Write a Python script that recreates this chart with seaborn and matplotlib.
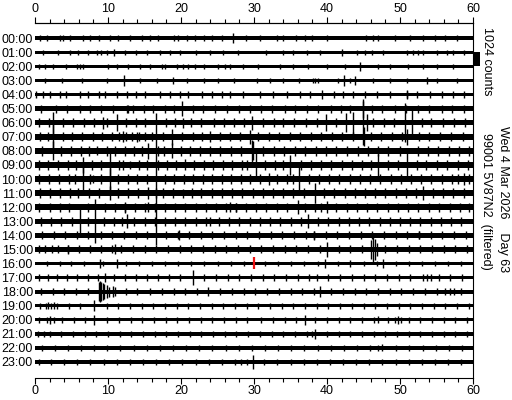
import numpy as np
import pandas as pd
import seaborn as sns
import matplotlib
matplotlib.use("Agg")
import matplotlib.pyplot as plt
from matplotlib.patches import Rectangle
from matplotlib.ticker import MultipleLocator

# helicorder rows, one per hour, 60 minutes each
hour_labels = ["00:00", "01:00", "02:00", "03:00", "04:00", "05:00", "06:00", "07:00",
               "08:00", "09:00", "10:00", "11:00", "12:00", "13:00", "14:00", "15:00",
               "16:00", "17:00", "18:00", "19:00", "20:00", "21:00", "22:00", "23:00"]

# background noise half-amplitude per hour (counts)
noise_counts = [135, 125, 125, 125, 135, 180, 195, 210, 205, 205, 220, 205,
                195, 195, 170, 170, 125, 135, 140, 125, 125, 135, 125, 125]

# small wiggles standing out of the noise (counts per hour, minutes per hour)
tick_counts = [210, 200, 200, 200, 230, 300, 330, 340, 340, 340, 350, 340,
               330, 320, 290, 290, 210, 230, 230, 210, 220, 230, 210, 210]
tick_minutes = [
    [0.7, 1.6, 3.4, 3.9, 4.8, 6.6, 7.5, 8.7, 10.3, 11.4, 13.0, 14.6, 15.8, 16.9, 19.0, 19.6, 20.8,
     21.9, 23.1, 24.3, 25.6, 28.9, 30.8, 33.1, 34.0, 35.8, 37.0, 37.9, 40.0, 45.4, 46.3, 47.0,
     49.3, 51.4, 53.2, 54.8, 56.2, 57.8],
    [1.1, 3.2, 4.8, 5.9, 7.3, 8.5, 9.1, 9.8, 12.3, 13.9, 15.3, 17.1, 18.5, 19.9, 22.1, 24.0, 25.8,
     27.8, 31.7, 34.0, 35.4, 37.2, 39.0, 44.1, 45.2, 46.1, 47.7, 50.9, 51.8, 52.5, 53.2, 55.0,
     56.4, 57.3, 58.7],
    [0.5, 1.4, 2.5, 4.3, 5.7, 6.2, 6.6, 10.0, 11.2, 12.8, 14.4, 15.8, 17.4, 17.8, 19.4, 20.3, 21.0,
     21.9, 23.1, 25.1, 26.0, 26.7, 28.5, 30.6, 33.6, 35.4, 37.4, 40.0, 42.5, 47.0, 48.6, 51.1,
     53.2, 55.0, 57.3],
    [1.4, 3.7, 6.4, 9.8, 14.4, 16.7, 20.8, 23.1, 25.1, 27.2, 30.4, 32.2, 34.0, 36.1, 38.1, 38.4,
     38.7, 41.5, 43.2, 46.3, 48.6, 50.9, 55.0, 57.8],
    [0.2, 1.1, 2.1, 3.4, 4.3, 6.2, 7.3, 8.7, 9.6, 11.2, 12.6, 13.9, 15.1, 17.1, 18.5, 19.9, 21.0,
     24.2, 25.6, 26.7, 28.5, 30.8, 32.6, 34.5, 36.3, 37.7, 40.9, 42.2, 43.6, 45.2, 46.8, 48.6,
     50.9, 52.3, 54.1, 55.7, 57.3, 58.7],
    [0.8, 2.9, 4.4, 6.1, 7.5, 9.0, 10.7, 12.6, 13.4, 14.9, 16.2, 17.8, 19.0, 21.6, 23.0, 24.7,
     26.3, 27.9, 29.4, 31.0, 32.5, 34.2, 35.6, 37.3, 38.8, 40.5, 41.9, 43.2, 46.1, 47.6, 49.3,
     50.8, 52.4, 54.0, 55.7, 57.1, 58.8],
    [0.6, 1.9, 3.8, 5.2, 6.7, 8.1, 9.9, 12.4, 13.8, 15.1, 17.9, 19.2, 21.4, 22.8, 24.5, 25.9,
     27.3, 28.6, 31.2, 32.7, 34.0, 35.5, 37.1, 38.6, 41.2, 46.3, 47.8, 49.2, 53.0, 54.3, 55.9,
     57.4, 58.9],
    [0.7, 1.8, 3.9, 5.1, 6.4, 7.9, 9.2, 10.6, 11.5, 12.4, 13.3, 14.2, 15.1, 16.0, 17.5, 20.2,
     21.6, 22.9, 25.3, 26.7, 28.1, 30.6, 32.0, 33.4, 34.9, 36.3, 37.8, 39.2, 40.7, 42.1, 43.5,
     46.0, 47.4, 48.9, 50.3, 52.6, 54.0, 55.5, 57.0, 58.6],
    [1.0, 3.6, 4.9, 6.3, 7.4, 9.8, 11.0, 12.3, 13.6, 14.6, 16.9, 17.7, 20.0, 21.3, 22.6, 24.0,
     25.4, 26.8, 28.2, 31.3, 32.8, 34.1, 35.6, 37.0, 38.5, 39.9, 41.3, 42.8, 44.2, 45.6, 47.0,
     48.4, 50.0, 52.4, 53.8, 55.2, 56.7, 58.1, 59.4],
    [0.5, 1.8, 3.2, 4.5, 5.6, 7.8, 9.0, 11.5, 12.1, 14.2, 15.4, 16.9, 18.1, 19.3, 21.8, 23.1,
     24.4, 25.7, 27.0, 28.4, 29.1, 31.5, 32.9, 34.0, 36.4, 37.8, 39.2, 40.6, 42.0, 43.4, 44.8,
     46.0, 48.3, 49.7, 52.3, 53.6, 55.0, 56.5, 57.9, 59.3],
    [0.6, 1.9, 3.3, 4.7, 5.5, 7.5, 9.1, 11.4, 12.7, 14.0, 15.3, 17.8, 19.1, 20.4, 21.7, 23.0,
     24.3, 25.6, 26.9, 28.2, 29.5, 30.8, 33.2, 34.5, 35.4, 37.5, 38.9, 40.3, 41.7, 43.1, 44.5,
     45.9, 47.3, 48.7, 50.1, 51.5, 52.9, 54.3, 55.7, 57.1, 58.0, 59.5],
    [0.7, 2.0, 3.4, 4.8, 5.9, 7.4, 8.8, 11.4, 12.8, 14.1, 16.6, 17.5, 18.9, 21.5, 22.8, 24.2,
     25.6, 27.0, 28.4, 29.8, 31.2, 32.6, 34.0, 35.4, 36.8, 39.6, 41.0, 42.4, 43.8, 45.2, 46.6,
     48.0, 49.4, 50.8, 52.2, 54.5, 55.9, 57.3, 58.7],
    [0.6, 2.0, 3.4, 4.7, 7.3, 9.6, 10.9, 12.3, 13.7, 15.0, 16.4, 17.8, 19.2, 20.6, 22.0, 23.4,
     24.8, 26.1, 27.5, 28.9, 30.3, 31.7, 33.1, 34.5, 37.0, 38.4, 39.2, 41.3, 42.7, 44.1, 45.5,
     46.9, 48.3, 49.7, 51.1, 52.5, 54.0, 55.4, 56.8, 58.2, 59.5],
    [0.8, 2.2, 3.6, 5.0, 7.2, 9.4, 10.8, 11.9, 13.6, 15.0, 16.4, 17.8, 19.2, 20.6, 22.0, 23.4,
     25.2, 26.6, 28.0, 29.4, 30.8, 32.2, 33.6, 35.0, 36.4, 38.8, 40.2, 41.6, 43.0, 44.4, 45.8,
     47.2, 48.6, 50.0, 51.4, 52.8, 54.2, 55.6, 57.0, 58.4],
    [0.9, 2.6, 4.1, 5.7, 7.3, 9.0, 10.6, 12.2, 13.8, 15.4, 17.9, 19.6, 21.1, 22.7, 24.3, 25.9,
     27.5, 29.1, 30.7, 32.3, 33.9, 35.5, 37.1, 38.2, 39.8, 41.4, 43.0, 44.6, 46.2, 47.8, 49.4,
     51.0, 52.6, 54.2, 55.8, 57.4, 59.0],
    [0.5, 1.4, 2.3, 3.2, 4.5, 6.0, 7.6, 9.1, 10.5, 11.8, 13.4, 15.0, 16.6, 18.2, 19.8, 21.4,
     23.0, 24.6, 26.2, 27.8, 29.4, 31.0, 32.6, 34.2, 35.8, 37.4, 39.0, 41.6, 43.2, 44.8, 48.0,
     49.6, 51.2, 52.8, 54.4, 56.0, 57.6, 59.2],
    [1.6, 3.4, 4.9, 6.7, 9.3, 12.5, 14.2, 16.0, 17.8, 19.6, 21.4, 23.2, 25.0, 26.8, 28.6, 31.5,
     33.3, 35.1, 36.9, 38.7, 41.5, 45.0, 46.8, 49.4, 51.2, 53.0, 54.8, 56.6, 58.4],
    [0.6, 1.8, 3.0, 4.4, 5.8, 7.2, 8.6, 10.8, 12.3, 13.8, 15.3, 16.8, 18.3, 19.8, 23.2, 24.8,
     26.4, 28.0, 29.6, 31.2, 32.8, 34.4, 36.0, 37.6, 40.2, 41.8, 43.4, 45.0, 46.6, 48.2, 49.8,
     51.4, 53.2, 54.2, 55.3, 56.9, 58.5],
    [0.8, 2.4, 4.0, 5.6, 7.2, 12.4, 14.0, 15.8, 17.4, 19.0, 20.6, 22.2, 25.4, 27.0, 28.6, 30.2,
     31.8, 33.4, 35.0, 36.6, 38.2, 40.6, 42.2, 43.8, 45.4, 47.0, 48.6, 50.2, 51.8, 53.4, 55.0,
     56.2, 57.4, 58.4],
    [0.7, 1.5, 2.2, 3.0, 4.6, 6.2, 9.8, 11.4, 13.0, 14.6, 16.2, 17.8, 19.4, 21.0, 22.6, 24.2,
     25.8, 27.4, 29.0, 30.6, 32.2, 33.8, 35.4, 37.0, 38.6, 40.2, 41.8, 43.4, 45.0, 46.6, 48.2,
     49.8, 51.4, 53.0, 54.6, 56.2, 57.8, 59.4],
    [0.5, 1.7, 2.6, 3.7, 5.3, 6.9, 9.9, 11.5, 13.1, 14.7, 16.3, 17.9, 19.5, 21.1, 22.7, 24.3,
     25.9, 27.5, 29.1, 31.0, 32.6, 34.2, 35.8, 38.4, 40.0, 41.6, 43.2, 44.8, 46.4, 48.4, 49.3,
     50.1, 51.2, 52.8, 54.4, 56.0, 57.6, 59.2],
    [0.4, 1.2, 2.0, 3.6, 5.2, 6.8, 8.4, 10.0, 11.6, 13.2, 14.8, 16.4, 18.0, 19.6, 21.2, 22.8,
     24.4, 26.0, 27.6, 29.2, 30.8, 32.4, 34.0, 35.6, 37.2, 37.9, 40.0, 41.6, 43.2, 44.8, 46.4,
     48.0, 49.6, 51.2, 52.8, 54.4, 56.0, 57.6, 59.2],
    [0.9, 2.7, 4.5, 6.3, 8.1, 9.9, 11.7, 13.5, 15.3, 17.1, 18.9, 20.7, 22.5, 24.3, 26.1, 27.9,
     29.7, 31.5, 33.3, 35.1, 36.9, 38.7, 40.5, 42.3, 44.1, 45.9, 47.0, 49.5, 51.3, 53.1, 54.9,
     56.7, 58.5],
    [0.6, 2.2, 4.0, 5.8, 7.6, 9.4, 11.2, 13.0, 14.8, 16.6, 18.4, 20.2, 22.0, 23.8, 25.6, 27.4,
     28.2, 29.0, 31.4, 33.2, 35.0, 36.8, 38.6, 40.4, 42.2, 44.0, 45.8, 47.6, 49.4, 51.2, 53.0,
     54.8, 56.6, 58.4],
]

# larger events (hour row, minute, half-amplitude in counts)
spike_hour = [0, 1, 1, 2, 3, 3, 3, 3, 3, 4, 4, 4, 5, 5, 5,
              6, 6, 6, 6, 6, 6, 6, 6, 6, 6, 6, 6,
              7, 7, 7, 7, 7, 7, 7, 7,
              8, 8, 8, 8, 8, 8,
              9, 9, 9, 9, 9, 9, 9, 9,
              10, 10, 10, 10, 10, 10, 10,
              11, 11, 11, 11, 11,
              12, 12, 12, 12, 12, 12,
              13, 13, 13, 13, 13,
              14, 14, 14,
              15, 15, 15, 15, 15, 15, 15,
              16, 16, 16, 16, 16,
              17, 17, 17, 17,
              18, 18, 18, 18, 18, 18, 18, 18, 18, 18, 18, 18,
              19, 19, 19,
              20, 20, 20, 20, 20,
              21, 22, 23]
spike_minute = [27.1, 10.8, 42.0, 44.5, 12.2, 18.9, 42.3, 43.8, 53.7, 39.3, 51.0, 22.9, 20.1, 12.8, 44.9,
                2.5, 9.3, 11.2, 20.3, 29.7, 44.9, 43.6, 42.6, 39.9, 50.7, 51.6, 45.5,
                2.5, 18.8, 24.0, 29.5, 12.0, 14.0, 45.0, 51.0,
                2.5, 15.5, 18.8, 8.5, 29.7, 29.9,
                6.6, 10.3, 20.5, 13.0, 30.3, 34.9, 47.0, 51.0,
                6.6, 10.3, 16.6, 8.0, 36.2, 32.0, 58.8,
                10.3, 15.5, 20.3, 38.4, 53.2,
                26.7, 15.5, 12.3, 36.0, 40.0, 27.5,
                6.2, 8.2, 12.6, 24.0, 37.4,
                19.7, 38.2, 52.6,
                4.5, 11.0, 40.0, 46.3, 46.0, 46.6, 46.9,
                8.9, 11.3, 39.7, 43.2, 47.7,
                21.6, 9.6, 53.7, 38.6,
                8.7, 8.9, 9.1, 9.3, 9.5, 9.8, 10.2, 10.7, 11.0, 23.7, 39.0, 56.8,
                8.1, 1.8, 2.6,
                8.1, 2.1, 37.0, 47.0, 49.7,
                38.4, 47.5, 29.9]
spike_counts = [360, 260, 260, 330, 420, 260, 420, 330, 260, 310, 300, 280, 560, 300, 700,
                800, 420, 600, 380, 500, 1600, 800, 700, 600, 1400, 1200, 600,
                950, 600, 400, 500, 400, 380, 700, 600,
                700, 600, 550, 320, 800, 700,
                600, 1150, 400, 320, 900, 700, 800, 900,
                950, 800, 4800, 320, 1100, 450, 420,
                500, 420, 330, 700, 500,
                360, 360, 400, 500, 420, 330,
                900, 1600, 500, 330, 500,
                360, 320, 280,
                320, 360, 560, 900, 700, 750, 500,
                320, 320, 320, 260, 300,
                560, 320, 280, 240,
                700, 760, 720, 620, 520, 460, 360, 420, 300, 300, 380, 240,
                380, 260, 260,
                350, 300, 360, 260, 300,
                360, 260, 500]

scale_counts = 1024          # one row spacing / calibration bar
marker_hour, marker_minute, marker_counts = 16, 30.0, 440

station = "99001 5V87N2  (filtered)"
date_text = "Wed 4 Mar 2026    Day 63"

rows = [(h, m, tick_counts[h]) for h in range(24) for m in tick_minutes[h]]
rows += list(zip(spike_hour, spike_minute, spike_counts))
spikes = pd.DataFrame(rows, columns=["hour", "minute", "counts"])
spikes["lo"] = -spikes["hour"] - spikes["counts"] / scale_counts
spikes["hi"] = -spikes["hour"] + spikes["counts"] / scale_counts

sns.set_theme(style="white")
plt.rcParams['font.family'] = ['Liberation Sans', 'DejaVu Sans']
plt.rcParams['text.color'] = 'black'

fig = plt.figure(figsize=(5.12, 4.0), dpi=100)
ax = fig.add_axes([35 / 512, 22 / 400, 438 / 512, 355 / 400])

for h, n in enumerate(noise_counts):
    ax.fill_between([0, 60], -h - n / scale_counts, -h + n / scale_counts,
                    color='black', lw=0)
ax.vlines(spikes["minute"], spikes["lo"], spikes["hi"], color='black', lw=1.0)

# red time marker
ax.vlines(marker_minute, -marker_hour - marker_counts / scale_counts,
          -marker_hour + marker_counts / scale_counts, color='#ee1111', lw=1.6, zorder=5)

# calibration bar
ax.add_patch(Rectangle((60, -2), 1.0, scale_counts / scale_counts, color='black',
                       clip_on=False, lw=0))

ax.set_xlim(0, 60)
ax.set_ylim(-24.14, 1.087)

sns.despine(ax=ax, left=True, right=False, top=False, bottom=False)
for side in ['top', 'bottom', 'right']:
    ax.spines[side].set_linewidth(0.8)
    ax.spines[side].set_color('black')

ax.yaxis.set_ticks_position('left')
ax.set_yticks(-np.arange(24))
ax.set_yticklabels(hour_labels)
ax.tick_params(axis='y', which='both', left=False, right=False, labelleft=True,
               labelright=False, length=0, pad=1.5, labelsize=9, labelcolor='black')

ax.xaxis.set_ticks_position('bottom')
ax.xaxis.set_major_locator(MultipleLocator(10))
ax.xaxis.set_minor_locator(MultipleLocator(2))
ax.tick_params(axis='x', which='both', bottom=True, top=False, direction='out',
               width=0.8, color='black', labelcolor='black', labelsize=9, pad=0.5)
ax.tick_params(axis='x', which='major', length=4.5)
ax.tick_params(axis='x', which='minor', length=2.6)

top = ax.secondary_xaxis('top')
top.xaxis.set_major_locator(MultipleLocator(10))
top.xaxis.set_minor_locator(MultipleLocator(2))
top.tick_params(axis='x', which='both', direction='out', width=0.8, color='black',
                labelcolor='black', labelsize=9, pad=1.5)
top.tick_params(axis='x', which='major', length=4.5)
top.tick_params(axis='x', which='minor', length=2.6)
top.spines['top'].set_linewidth(0.8)
top.spines['top'].set_color('black')

fig.text(487 / 512, 1 - 27 / 400, "1024 counts", rotation=270, ha='center', va='top',
         fontsize=9, color='black')
fig.text(486 / 512, 1 - 201 / 400, station, rotation=270, ha='center', va='center',
         fontsize=9, color='black')
fig.text(503 / 512, 1 - 199 / 400, date_text, rotation=270, ha='center', va='center',
         fontsize=9, color='black')

fig.savefig("out.png", dpi=100)
